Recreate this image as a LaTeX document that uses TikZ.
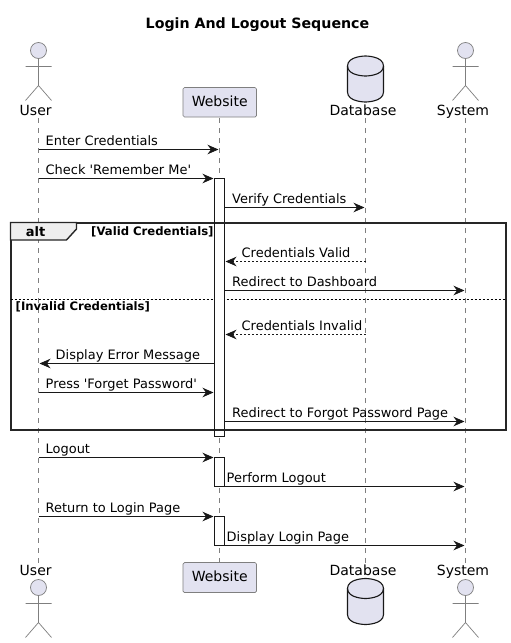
\documentclass[tikz,border=0pt]{standalone}
\usepackage{fontspec}
\setmainfont{DejaVu Sans}
\usetikzlibrary{arrows.meta}
\definecolor{partfill}{HTML}{E2E2F0}
\definecolor{partline}{HTML}{181818}
\definecolor{lifeline}{HTML}{7F7F7F}
\definecolor{altfill}{HTML}{EEEEEE}
\tikzset{
 x=1pt,y=-1pt,
 msg/.style={draw=partline,line width=0.9pt,-{Stealth[length=11pt,width=9.5pt,inset=3.5pt]}},
 ret/.style={msg,dash pattern=on 2pt off 2pt},
 lab/.style={inner sep=0pt,anchor=base west,font=\fontsize{12.95}{15}\selectfont,text=black},
 plab/.style={inner sep=0pt,anchor=base,font=\fontsize{14}{16}\selectfont,text=black},
 guard/.style={inner sep=0pt,anchor=base west,font=\fontsize{11.65}{13}\selectfont\bfseries,text=black},
 life/.style={draw=lifeline,line width=0.6pt,dash pattern=on 5pt off 5pt},
 actbar/.style={draw=partline,fill=white,line width=0.9pt},
 frameline/.style={draw=black!85,line width=2pt},
 stick/.style={draw=lifeline,line width=0.7pt},
 pbox/.style={draw=lifeline,fill=partfill,rounded corners=1.5pt,line width=0.7pt},
 dbshape/.style={draw=partline,fill=partfill,line width=1.1pt},
}
\newcommand{\stickman}[2]{% x, head y
 \draw[stick,fill=partfill] (#1,#2) circle (8);
 \draw[stick] (#1,#2+8)--(#1,#2+35) (#1-13,#2+16)--(#1+13,#2+16) (#1-13,#2+50)--(#1,#2+35)--(#1+13,#2+50);
}
\newcommand{\dbcyl}[2]{% x, top y
 \draw[dbshape] (#1-18,#2+10) .. controls (#1-18,#2) and (#1,#2) .. (#1,#2) .. controls (#1,#2) and (#1+18,#2) .. (#1+18,#2+10)
   -- (#1+18,#2+36) .. controls (#1+18,#2+46) and (#1,#2+46) .. (#1,#2+46) .. controls (#1,#2+46) and (#1-18,#2+46) .. (#1-18,#2+36) -- cycle;
 \draw[dbshape,fill=none] (#1-18,#2+10) .. controls (#1-18,#2+20) and (#1,#2+20) .. (#1,#2+20) .. controls (#1,#2+20) and (#1+18,#2+20) .. (#1+18,#2+10);
}
\begin{document}
\begin{tikzpicture}
\useasboundingbox (0,0) rectangle (511,643);
\fill[white] (0,0) rectangle (511,643);
\node[inner sep=0pt,anchor=base,font=\fontsize{14.2}{16}\selectfont\bfseries] (title) at (257.5,28) {Login And Logout Sequence};
% lifeline anchors
\coordinate (ut) at (38.5,118); \coordinate (ub) at (38.5,564);
\coordinate (wt) at (219.5,118); \coordinate (wb) at (219.5,564);
\coordinate (dt) at (365.5,118); \coordinate (db) at (365.5,564);
\coordinate (st) at (465.5,118); \coordinate (sb) at (465.5,564);
\draw[life] (ut)--(ub); \draw[life] (wt)--(wb); \draw[life] (dt)--(db); \draw[life] (st)--(sb);
% participants
\stickman{38.5}{50.5}
\node[plab] (u1) at (35.7,115.5) {User};
\node[plab] (u2) at (35.7,575) {User};
\stickman{38.5}{587.5}
\draw[pbox] (183,87.5) rectangle (256.5,117);
\node[plab] (w1) at (219.7,106.5) {Website};
\draw[pbox] (183,562.5) rectangle (256.5,592.5);
\node[plab] (w2) at (219.7,581.5) {Website};
\dbcyl{365.5}{56}
\node[plab] (d1) at (363,115.5) {Database};
\node[plab] (d2) at (363,575) {Database};
\dbcyl{365.5}{578.5}
\stickman{465.5}{50.5}
\node[plab] (s1) at (463,115.5) {System};
\node[plab] (s2) at (463,575) {System};
\stickman{465.5}{587.5}
% frame
\draw[frameline] (10.5,222.5) rectangle (505.5,429.5);
\draw[frameline,line width=1.4pt,fill=altfill] (10.5,222.5) -- (76.5,222.5) -- (76.5,229) -- (66.5,240) -- (10.5,240) -- cycle;
\node[inner sep=0pt,anchor=base,font=\fontsize{13}{15}\selectfont\bfseries] (alt) at (35.5,236) {alt};
\node[guard] (g1) at (91,235) {[Valid Credentials]};
\node[guard] (g2) at (15.5,310) {[Invalid Credentials]};
\draw[draw=black,line width=0.7pt,dash pattern=on 2pt off 2pt] (10.5,299.5)--(505.5,299.5);
% activation bars
\draw[actbar] (214.5,178.5) rectangle (224.5,436);
\draw[frameline] (214.5,222.5)--(224.5,222.5) (214.5,429.5)--(224.5,429.5);
\draw[actbar] (214.5,457.5) rectangle (224.5,486.5);
\draw[actbar] (214.5,516.5) rectangle (224.5,545.5);
% messages
\coordinate (m1a) at (38.5,149.5); \coordinate (m1b) at (218.5,149.5);
\draw[msg] (m1a)--(m1b); \node[lab] (t1) at (45.5,145.5) {Enter Credentials};
\coordinate (m2a) at (38.5,178.5); \coordinate (m2b) at (213.5,178.5);
\draw[msg] (m2a)--(m2b); \node[lab] (t2) at (45.5,174.5) {Check \textquotesingle Remember Me\textquotesingle};
\coordinate (m3a) at (224.5,207.5); \coordinate (m3b) at (364.5,207.5);
\draw[msg] (m3a)--(m3b); \node[lab] (t3) at (232,203.5) {Verify Credentials};
\coordinate (m4a) at (365.5,261.5); \coordinate (m4b) at (225.5,261.5);
\draw[ret] (m4a)--(m4b); \node[lab] (t4) at (241.5,257.5) {Credentials Valid};
\coordinate (m5a) at (224.5,290.5); \coordinate (m5b) at (464.5,290.5);
\draw[msg] (m5a)--(m5b); \node[lab] (t5) at (232,286.5) {Redirect to Dashboard};
\coordinate (m6a) at (365.5,334.5); \coordinate (m6b) at (225.5,334.5);
\draw[ret] (m6a)--(m6b); \node[lab] (t6) at (241.5,330.5) {Credentials Invalid};
\coordinate (m7a) at (214.5,363.5); \coordinate (m7b) at (39.5,363.5);
\draw[msg] (m7a)--(m7b); \node[lab] (t7) at (55.5,359.5) {Display Error Message};
\coordinate (m8a) at (38.5,392.5); \coordinate (m8b) at (213.5,392.5);
\draw[msg] (m8a)--(m8b); \node[lab] (t8) at (45.5,388.5) {Press \textquotesingle Forget Password\textquotesingle};
\coordinate (m9a) at (224.5,421.5); \coordinate (m9b) at (464.5,421.5);
\draw[msg] (m9a)--(m9b); \node[lab] (t9) at (232,417.5) {Redirect to Forgot Password Page};
\coordinate (m10a) at (38.5,457.5); \coordinate (m10b) at (213.5,457.5);
\draw[msg] (m10a)--(m10b); \node[lab] (t10) at (45.5,453.5) {Logout};
\coordinate (m11a) at (224.5,486.5); \coordinate (m11b) at (464.5,486.5);
\draw[msg] (m11a)--(m11b); \node[lab] (t11) at (226.5,482.5) {Perform Logout};
\coordinate (m12a) at (38.5,516.5); \coordinate (m12b) at (213.5,516.5);
\draw[msg] (m12a)--(m12b); \node[lab] (t12) at (45.5,512.5) {Return to Login Page};
\coordinate (m13a) at (224.5,545.5); \coordinate (m13b) at (464.5,545.5);
\draw[msg] (m13a)--(m13b); \node[lab] (t13) at (226.5,541.5) {Display Login Page};
\end{tikzpicture}
\end{document}
